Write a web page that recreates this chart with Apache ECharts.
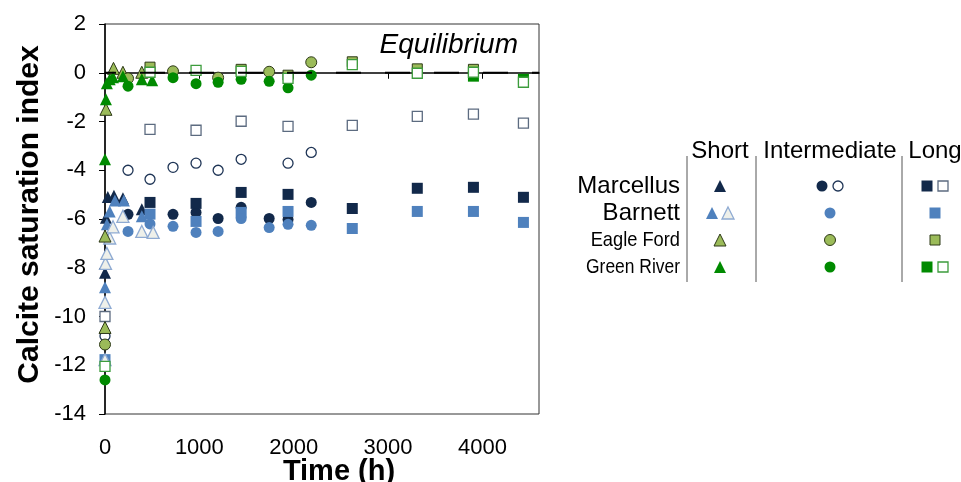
<!DOCTYPE html>
<html><head><meta charset="utf-8">
<script src="https://cdn.jsdelivr.net/npm/echarts@6/dist/echarts.min.js"></script>
<style>html,body{margin:0;padding:0;background:#fff}#c{width:961px;height:482px}</style>
</head><body><div id="c"></div>
<script>
// ---- data (time in h, calcite saturation index) ----
const xTickValues = [0, 1000, 2000, 3000, 4000];
const yTickValues = [2, 0, -2, -4, -6, -8, -10, -12, -14];
const equilibrium = [[0, 0], [4600, 0]];

const marcellusShort = [[0,-8.2],[10,-5.95],[30,-5.1],[95,-5.05],[190,-5.15],[390,-5.6]];
const marcellusInter = [[244,-5.81],[721,-5.81],[965,-5.73],[1199,-5.98],[1443,-5.52],[1740,-5.98],[1940,-6.02],[2186,-5.32]];
const marcellusInterOpen = [[0,-10.8],[244,-4.0],[477,-4.37],[721,-3.88],[965,-3.71],[1199,-4.0],[1443,-3.55],[1940,-3.71],[2186,-3.27]];
const marcellusLong = [[477,-5.32],[965,-5.36],[1443,-4.91],[1940,-4.99],[2621,-5.57],[3310,-4.74],[3905,-4.7],[4435,-5.11]];
const marcellusLongOpen = [[0,-10.0],[477,-2.32],[965,-2.36],[1443,-1.99],[1940,-2.2],[2621,-2.16],[3310,-1.79],[3905,-1.7],[4435,-2.07]];

const barnettShort = [[0,-8.8],[20,-6.22],[50,-5.69],[105,-5.24],[200,-5.24],[390,-5.89]];
const barnettShortOpen = [[0,-11.77],[0,-9.42],[5,-7.82],[20,-7.41],[50,-6.78],[85,-6.32],[190,-5.89],[390,-6.51],[510,-6.55]];
const barnettInter = [[244,-6.51],[477,-6.2],[721,-6.3],[965,-6.55],[1199,-6.51],[1443,-5.98],[1740,-6.35],[1940,-6.22],[2186,-6.26]];
const barnettLong = [[0,-11.77],[477,-5.8],[965,-6.1],[1443,-5.73],[1940,-5.69],[2621,-6.39],[3310,-5.69],[3905,-5.69],[4435,-6.14]];

const eagleFordShort = [[0,-10.45],[0,-6.7],[10,-1.5],[90,0.18],[190,0.02],[390,0.02]];
const eagleFordInter = [[0,-11.15],[244,-0.23],[721,0.06],[1199,-0.2],[1740,0.04],[2186,0.43]];
const eagleFordLong = [[477,0.23],[1443,0.14],[1940,-0.1],[2621,0.45],[3310,0.16],[3905,0.14]];

const greenRiverShort = [[0,-3.55],[10,-1.09],[20,-0.43],[50,-0.27],[85,-0.18],[190,-0.14],[390,-0.27],[500,-0.31]];
const greenRiverInter = [[0,-12.6],[244,-0.55],[721,-0.2],[965,-0.45],[1199,-0.39],[1443,-0.27],[1740,-0.35],[1940,-0.62],[2186,-0.1]];
const greenRiverLong = [[3905,-0.14],[4435,-0.27]];
const greenRiverLongOpen = [[0,-12.05],[477,0.02],[965,0.1],[1443,0.06],[1940,-0.23],[2621,0.33],[3310,-0.02],[3905,0.02],[4435,-0.39]];

const formations = ['Marcellus', 'Barnett', 'Eagle Ford', 'Green River'];
const durations = ['Short', 'Intermediate', 'Long'];

// ---- styles ----
const NAVY = '#12294a', BLUE = '#4f81bd', OLIVE = '#9bbb59', GREEN = '#008a00';
const ST = {
  navyTri:   {symbol:'triangle', size:12, color:NAVY, border:NAVY, bw:0},
  navyCirc:  {symbol:'circle', size:11, color:NAVY, border:NAVY, bw:0},
  openCirc:  {symbol:'circle', size:10, color:'#ffffff', border:'#1f3556', bw:1.3},
  navySq:    {symbol:'rect', size:11, color:NAVY, border:NAVY, bw:0},
  openSq:    {symbol:'rect', size:10, color:'#ffffff', border:'#5c6b80', bw:1.3},
  blueTri:   {symbol:'triangle', size:12, color:BLUE, border:BLUE, bw:0},
  lightTri:  {symbol:'triangle', size:12, color:'#eef0ea', border:'#8eaad2', bw:1.3},
  blueCirc:  {symbol:'circle', size:11, color:BLUE, border:BLUE, bw:0},
  blueSq:    {symbol:'rect', size:11, color:BLUE, border:BLUE, bw:0},
  oliveTri:  {symbol:'triangle', size:12, color:OLIVE, border:'#2e3a18', bw:1},
  oliveCirc: {symbol:'circle', size:11, color:OLIVE, border:'#2e3a18', bw:1},
  oliveSq:   {symbol:'rect', size:10, color:OLIVE, border:'#2e3a18', bw:1},
  greenTri:  {symbol:'triangle', size:12, color:GREEN, border:GREEN, bw:0},
  greenCirc: {symbol:'circle', size:11, color:GREEN, border:GREEN, bw:0},
  greenSq:   {symbol:'rect', size:11, color:GREEN, border:GREEN, bw:0},
  openGreenSq:{symbol:'rect', size:10, color:'#ffffff', border:'#3c9c3c', bw:1.3}
};

const seriesDefs = [
  ['Marcellus Short', marcellusShort, 'navyTri'],
  ['Marcellus Intermediate', marcellusInter, 'navyCirc'],
  ['Marcellus Intermediate (open)', marcellusInterOpen, 'openCirc'],
  ['Marcellus Long', marcellusLong, 'navySq'],
  ['Marcellus Long (open)', marcellusLongOpen, 'openSq'],
  ['Barnett Long', barnettLong, 'blueSq'],
  ['Barnett Intermediate', barnettInter, 'blueCirc'],
  ['Barnett Short', barnettShort, 'blueTri'],
  ['Barnett Short (open)', barnettShortOpen, 'lightTri'],
  ['Eagle Ford Short', eagleFordShort, 'oliveTri'],
  ['Eagle Ford Intermediate', eagleFordInter, 'oliveCirc'],
  ['Eagle Ford Long', eagleFordLong, 'oliveSq'],
  ['Green River Short', greenRiverShort, 'greenTri'],
  ['Green River Intermediate', greenRiverInter, 'greenCirc'],
  ['Green River Long', greenRiverLong, 'greenSq'],
  ['Green River Long (open)', greenRiverLongOpen, 'openGreenSq']
];

const FONT = '"Liberation Sans", Arial, sans-serif';

const series = [{
  name:'Equilibrium', type:'line', data:equilibrium, symbol:'none', silent:true,
  lineStyle:{color:'#000', width:2, type:[25,24], dashOffset:14}
}];
seriesDefs.forEach(([name, data, key]) => {
  const s = ST[key];
  series.push({
    name, type:'scatter', data, symbol:s.symbol, symbolSize:s.size,
    itemStyle:{color:s.color, borderColor:s.border, borderWidth:s.bw, opacity:1}
  });
});

// ---- legend table (graphic) ----
const legendRows = [
  [['navyTri'], ['navyCirc','openCirc'], ['navySq','openSq']],
  [['blueTri','lightTri'], ['blueCirc'], ['blueSq']],
  [['oliveTri'], ['oliveCirc'], ['oliveSq']],
  [['greenTri'], ['greenCirc'], ['greenSq','openGreenSq']]
];
const colX = [720, 830, 935];
const rowY = [186, 213, 240, 267];
const rowFont = [24, 24, 21, 21];
const rowScaleX = [1, 1, 0.87, 0.83];
const graphic = [];
durations.forEach((d, i) => graphic.push({type:'text', x:colX[i], y:151,
  style:{text:d, font:'24px ' + FONT, fill:'#000', align:'center', verticalAlign:'middle'}}));
formations.forEach((f, i) => graphic.push({type:'text', x:680, y:rowY[i], scaleX:rowScaleX[i],
  style:{text:f, font:rowFont[i] + 'px ' + FONT, fill:'#000', align:'right', verticalAlign:'middle'}}));
[687, 756, 902].forEach(x => graphic.push({type:'line', shape:{x1:x, y1:156, x2:x, y2:282},
  style:{stroke:'#555', lineWidth:1}}));
function legendSymbol(key, cx, cy) {
  const s = ST[key];
  const style = {fill:s.color, stroke:s.bw ? s.border : null, lineWidth:s.bw};
  if (s.symbol === 'circle') return {type:'circle', shape:{cx, cy, r:s.size/2}, style};
  if (s.symbol === 'rect') return {type:'rect', shape:{x:cx - s.size/2, y:cy - s.size/2, width:s.size, height:s.size}, style};
  const h = s.size / 2;
  return {type:'polygon', shape:{points:[[cx, cy - h], [cx + h, cy + h], [cx - h, cy + h]]}, style};
}
legendRows.forEach((row, r) => row.forEach((keys, c) => {
  const n = keys.length, gap = 16;
  keys.forEach((k, j) => graphic.push(legendSymbol(k, colX[c] - (n - 1) * gap / 2 + j * gap, rowY[r])));
}));
graphic.push({type:'text', x:518, y:45,
  style:{text:'Equilibrium', font:'italic 28px ' + FONT, fill:'#000', align:'right', verticalAlign:'middle'}});

const chart = echarts.init(document.getElementById('c'), null, {renderer:'canvas'});
chart.setOption({
  animation:false,
  backgroundColor:'#fff',
  grid:{left:105, right:422, top:24, bottom:68, show:true, borderColor:'#333', borderWidth:1,
    containLabel:false, outerBoundsMode:'none'},
  xAxis:{
    type:'value', min:0, max:4600, interval:1000,
    name:'Time (h)', nameLocation:'middle', nameGap:43, nameMoveOverlap:false,
    nameTextStyle:{fontFamily:FONT, fontSize:29, fontWeight:'bold', color:'#000', padding:[0,0,0,34]},
    axisLine:{show:true, lineStyle:{color:'#000', width:1.5}},
    axisTick:{show:true, length:6, inside:false, lineStyle:{color:'#000'}, customValues:xTickValues},
    axisLabel:{fontFamily:FONT, fontSize:22, color:'#000', margin:23, customValues:xTickValues,
      formatter: v => String(v)},
    splitLine:{show:false}
  },
  yAxis:{
    type:'value', min:-14, max:2, interval:2,
    name:'Calcite saturation index', nameLocation:'middle', nameGap:60, nameMoveOverlap:false,
    nameTextStyle:{fontFamily:FONT, fontSize:30, fontWeight:'bold', color:'#000', padding:[0,0,0,9]},
    axisLine:{show:true, lineStyle:{color:'#000', width:1.5}},
    axisTick:{show:true, length:6, inside:false, lineStyle:{color:'#000'}, customValues:yTickValues},
    axisLabel:{fontFamily:FONT, fontSize:22, color:'#000', margin:19, customValues:yTickValues},
    splitLine:{show:false}
  },
  series,
  graphic
});
</script></body></html>
